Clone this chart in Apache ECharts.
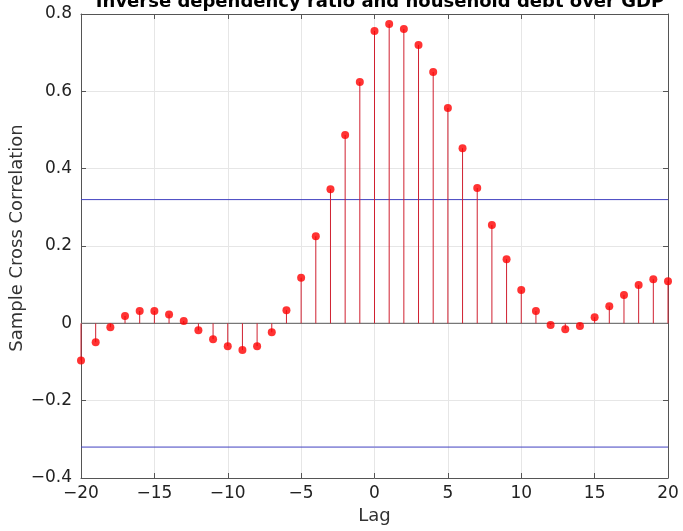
<!DOCTYPE html>
<html><head><meta charset="utf-8">
<script src="https://cdn.jsdelivr.net/npm/echarts@6/dist/echarts.min.js"></script>
<style>html,body{margin:0;padding:0;background:#fff}#c{width:683px;height:531px}</style>
</head><body><div id="c"></div>
<script>
const lags = [-20,-19,-18,-17,-16,-15,-14,-13,-12,-11,-10,-9,-8,-7,-6,-5,-4,-3,-2,-1,0,1,2,3,4,5,6,7,8,9,10,11,12,13,14,15,16,17,18,19,20];
const xcf = [-0.096,-0.049,-0.010,0.019,0.032,0.032,0.023,0.006,-0.018,-0.041,-0.059,-0.069,-0.059,-0.023,0.034,0.118,0.225,0.347,0.487,0.624,0.756,0.774,0.761,0.720,0.650,0.557,0.453,0.350,0.254,0.166,0.086,0.032,-0.004,-0.015,-0.007,0.016,0.044,0.073,0.099,0.114,0.109];
const confBounds = [0.32, -0.32];
const xTicks = [-20,-15,-10,-5,0,5,10,15,20];
const yTicks = [-0.4,-0.2,0,0.2,0.4,0.6,0.8];
const titleText = 'Inverse dependency ratio and household debt over GDP';
const xName = 'Lag';
const yName = 'Sample Cross Correlation';

const pts = lags.map((l,i)=>[l, xcf[i]]);
const fmt = v => String(Math.round(v*10)/10).replace('-', '\u2212');
const FONT = '"DejaVu Sans", sans-serif';
const axisCol = '#555';
const chart = echarts.init(document.getElementById('c'));
const baseX = {type:'value', min:-20, max:20, interval:5};
const baseY = {type:'value', min:-0.4, max:0.8, interval:0.2};
chart.setOption({
  animation:false,
  title:{text:titleText, left:375, textAlign:'center', top:-12, textStyle:{fontFamily:FONT, fontSize:18, fontWeight:'bold', color:'#000'}},
  grid:{left:81, right:15, top:14, bottom:53, containLabel:false, outerBoundsMode:'none'},
  graphic:[{type:'text', x:17, y:238, rotation:Math.PI/2,
    style:{text:yName, fontFamily:FONT, fontSize:18, fill:'#333', align:'center', verticalAlign:'middle'}}],
  xAxis:[
    Object.assign({}, baseX, {position:'bottom', name:xName, nameLocation:'middle', nameGap:28,
      nameTextStyle:{fontFamily:FONT, fontSize:18, color:'#333'},
      axisLine:{show:true, onZero:false, lineStyle:{color:axisCol}},
      axisTick:{show:true, inside:true, length:5, lineStyle:{color:axisCol}},
      axisLabel:{formatter:fmt, fontFamily:FONT, fontSize:17, color:'#222', margin:7},
      splitLine:{show:true, lineStyle:{color:'#e6e6e6'}}}),
    Object.assign({}, baseX, {position:'top',
      axisLine:{show:true, onZero:false, lineStyle:{color:axisCol}},
      axisTick:{show:true, inside:true, length:5, lineStyle:{color:axisCol}},
      axisLabel:{show:false}, splitLine:{show:false}})
  ],
  yAxis:[
    Object.assign({}, baseY, {position:'left',
      axisLine:{show:true, onZero:false, lineStyle:{color:axisCol}},
      axisTick:{show:true, inside:true, length:5, lineStyle:{color:axisCol}},
      axisLabel:{formatter:fmt, fontFamily:FONT, fontSize:17, color:'#222', margin:9},
      splitLine:{show:true, lineStyle:{color:'#e6e6e6'}}}),
    Object.assign({}, baseY, {position:'right',
      axisLine:{show:true, onZero:false, lineStyle:{color:axisCol}},
      axisTick:{show:true, inside:true, length:5, lineStyle:{color:axisCol}},
      axisLabel:{show:false}, splitLine:{show:false}})
  ],
  series:[
    {type:'line', data:[[-20,0],[20,0]], symbol:'none', lineStyle:{color:'#777', width:1.2}, z:2},
    {type:'line', data:[[-20,confBounds[0]],[20,confBounds[0]]], symbol:'none', lineStyle:{color:'#4040c0', width:1}, z:2},
    {type:'line', data:[[-20,confBounds[1]],[20,confBounds[1]]], symbol:'none', lineStyle:{color:'#4040c0', width:1}, z:2},
    {type:'custom', data:pts, z:3,
      renderItem:(params, api)=>{
        const p1 = api.coord([api.value(0), 0]);
        const p2 = api.coord([api.value(0), api.value(1)]);
        return {type:'line', shape:{x1:p1[0], y1:p1[1], x2:p2[0], y2:p2[1]}, style:{stroke:'#d02030', lineWidth:1}};
      }},
    {type:'scatter', data:pts, symbol:'circle', symbolSize:8, itemStyle:{color:'#ff0000'}, z:4}
  ]
});
</script></body></html>
